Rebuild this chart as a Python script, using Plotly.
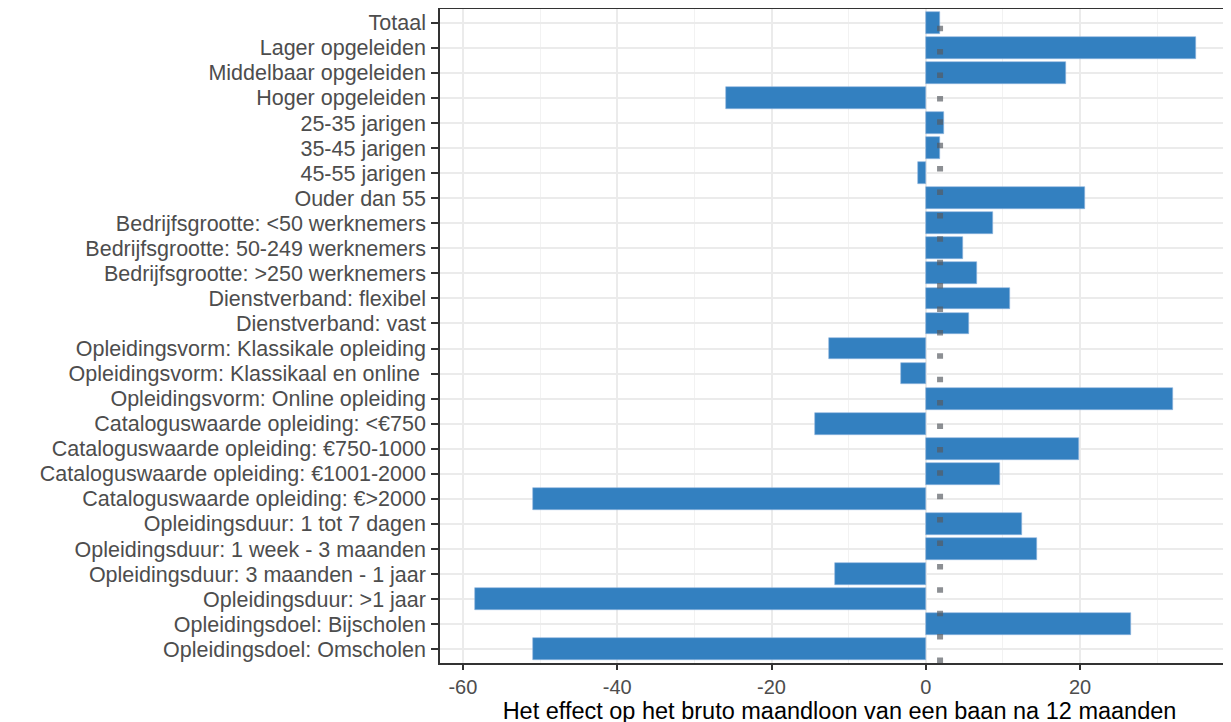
import plotly.graph_objects as go

categories = [
    "Totaal",
    "Lager opgeleiden",
    "Middelbaar opgeleiden",
    "Hoger opgeleiden",
    "25-35 jarigen",
    "35-45 jarigen",
    "45-55 jarigen",
    "Ouder dan 55",
    "Bedrijfsgrootte: <50 werknemers",
    "Bedrijfsgrootte: 50-249 werknemers",
    "Bedrijfsgrootte: >250 werknemers",
    "Dienstverband: flexibel",
    "Dienstverband: vast",
    "Opleidingsvorm: Klassikale opleiding",
    "Opleidingsvorm: Klassikaal en online ",
    "Opleidingsvorm: Online opleiding",
    "Cataloguswaarde opleiding: <€750",
    "Cataloguswaarde opleiding: €750-1000",
    "Cataloguswaarde opleiding: €1001-2000",
    "Cataloguswaarde opleiding: €>2000",
    "Opleidingsduur: 1 tot 7 dagen",
    "Opleidingsduur: 1 week - 3 maanden",
    "Opleidingsduur: 3 maanden - 1 jaar",
    "Opleidingsduur: >1 jaar",
    "Opleidingsdoel: Bijscholen",
    "Opleidingsdoel: Omscholen",
]

effect = [
    1.85, 35.05, 18.2, -25.9, 2.4, 1.85, -1.05, 20.6,
    8.75, 4.8, 6.7, 10.95, 5.6,
    -12.6, -3.25, 32.05,
    -14.35, 19.85, 9.6, -50.95,
    12.5, 14.4, -11.8, -58.4,
    26.6, -50.95,
]

reference_value = 1.85

x_tickvals = [-60, -40, -20, 0, 20]
x_title = "Het effect op het bruto maandloon van een baan na 12 maanden"

FONT = "Liberation Sans, Arial, sans-serif"

fig = go.Figure()
fig.add_trace(go.Bar(
    x=effect,
    y=categories,
    orientation="h",
    width=0.87,
    marker=dict(color="#3380C0", line=dict(width=0.6, color="#8FB6DD")),
    hoverinfo="x+y",
))

n = len(categories)
fig.add_shape(
    type="line",
    xref="x", yref="y",
    x0=reference_value, x1=reference_value,
    y0=n - 1 + 0.55, y1=-0.55,
    line=dict(color="rgba(85,90,96,0.68)", width=6, dash="5.5px,17.9px"),
    layer="above",
)

fig.update_layout(
    width=1231, height=722,
    margin=dict(l=432, r=0, t=1, b=67),
    paper_bgcolor="white",
    plot_bgcolor="white",
    showlegend=False,
    bargap=0,
    font=dict(family=FONT, color="#4D4D4D"),
)

fig.update_xaxes(
    range=[-62.97, 40.6],
    tickmode="array",
    tickvals=x_tickvals,
    ticktext=[str(v) for v in x_tickvals],
    tickfont=dict(size=20, color="#4D4D4D", family=FONT),
    ticks="outside", ticklen=5, tickwidth=1.5, tickcolor="#333333",
    showline=True, linecolor="#333333", linewidth=1.5, mirror=True,
    showgrid=True, gridcolor="#EBEBEB", gridwidth=1.7,
    minor=dict(dtick=10, tick0=0, showgrid=True, gridcolor="#F2F2F2", gridwidth=1),
    zeroline=False,
    title=dict(text=x_title, font=dict(size=23.5, color="black", family=FONT), standoff=0),
    automargin=False,
)

fig.update_yaxes(
    categoryorder="array",
    categoryarray=categories,
    tickmode="array",
    tickvals=categories,
    ticktext=categories,
    range=[n - 1 + 0.55, -0.55],
    tickfont=dict(size=21.5, color="#4D4D4D", family=FONT),
    ticks="outside", ticklen=7, tickwidth=1.5, tickcolor="#333333",
    ticklabelstandoff=1,
    showline=True, linecolor="#333333", linewidth=1.5, mirror=False,
    showgrid=True, gridcolor="#EBEBEB", gridwidth=1.7,
    zeroline=False,
    automargin=False,
)

fig.write_html("out.html")
